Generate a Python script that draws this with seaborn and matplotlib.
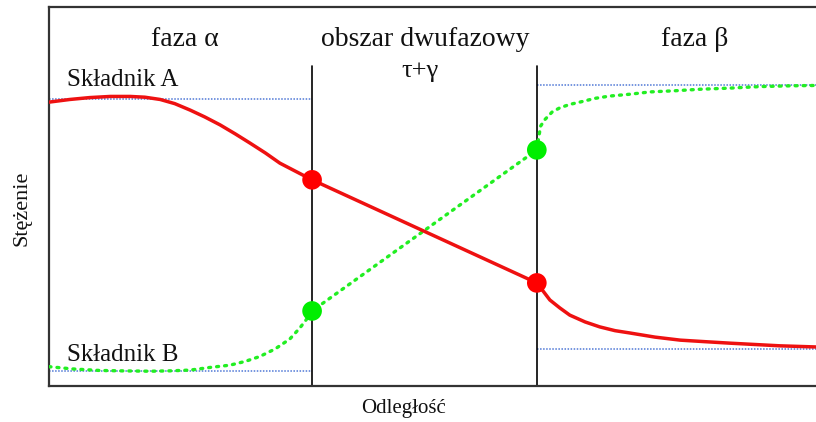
import matplotlib
matplotlib.use("Agg")
import matplotlib.pyplot as plt
import seaborn as sns
import pandas as pd

# Distance (arbitrary units, 0-100) and concentration (arbitrary units, 0-100)
boundary_x = [34.3, 63.6]          # phase boundaries alpha | two-phase | beta

red_x = [0.0, 2.7, 5.3, 8.0, 10.6, 12.5, 14.5, 16.4, 18.4, 20.3, 22.3, 24.3,
         26.2, 28.2, 30.1, 32.1, 34.3,
         63.6, 64.4, 65.3, 66.6, 67.9, 69.9, 71.8, 73.8, 75.7, 79.0, 82.3,
         85.5, 88.8, 95.3, 100.0]
red_y = [74.9, 75.6, 76.1, 76.4, 76.4, 76.2, 75.6, 74.5, 72.8, 71.0, 68.9, 66.5,
         64.1, 61.5, 58.8, 56.7, 54.4,
         27.2, 25.1, 22.7, 20.6, 18.7, 16.9, 15.6, 14.6, 14.0, 12.9, 12.1,
         11.7, 11.3, 10.6, 10.3]

green_x = [0.0, 3.1, 6.6, 9.3, 13.2, 15.8, 18.4, 21.0, 23.6, 25.6, 27.5, 29.5,
           31.4, 32.7, 33.5, 34.3,
           63.6, 63.9, 64.1, 64.7, 65.6, 66.6, 67.9, 69.2, 71.2, 73.1, 75.8,
           78.4, 81.6, 84.9, 88.8, 92.7, 96.6, 100.0]
green_y = [5.1, 4.5, 4.1, 4.0, 3.9, 4.0, 4.2, 4.9, 5.5, 6.5, 7.8, 9.8,
           12.4, 15.3, 17.4, 19.8,
           62.3, 66.2, 68.6, 70.4, 72.3, 73.4, 74.3, 74.9, 75.9, 76.5, 77.0,
           77.6, 77.9, 78.3, 78.6, 79.0, 79.2, 79.3]

red_dots_y = [54.4, 27.2]
green_dots_y = [19.8, 62.3]

# Equilibrium levels: (x start, x end, level)
level_a_alpha = [0.0, 34.3, 75.7]
level_a_beta = [63.6, 100.0, 79.5]
level_b_alpha = [0.0, 34.3, 4.0]
level_b_beta = [63.6, 100.0, 9.8]

phase_labels = ["faza α", "obszar dwufazowy", "faza β"]
phase_label_x = [17.7, 49.0, 84.2]
two_phase_sub = "τ+γ"
component_labels = ["Składnik A", "Składnik B"]
x_label = "Odległość"
y_label = "Stężenie"

sns.set_theme(style="white")
plt.rcParams["font.family"] = ["Liberation Serif", "DejaVu Serif"]

fig = plt.figure(figsize=(8.16, 4.22), dpi=100)
ax = fig.add_axes([49 / 816, 36 / 422, 767 / 816, 379 / 422])
ax.set_xlim(0, 100)
ax.set_ylim(0, 100)

blue = "#4f78d6"
for lv in (level_a_alpha, level_a_beta, level_b_alpha, level_b_beta):
    ax.plot([lv[0], lv[1]], [lv[2], lv[2]], color=blue, lw=1.1,
            linestyle=(0, (1, 1)), zorder=1)

for bx in boundary_x:
    ax.plot([bx, bx], [0, 84.4], color="black", lw=1.2, zorder=2)

green_df = pd.DataFrame({"x": green_x, "y": green_y})
sns.lineplot(data=green_df, x="x", y="y", ax=ax, color="#22ee22", lw=2.4,
             sort=False, estimator=None, zorder=3)
ax.lines[-1].set_linestyle((0, (0.6, 1.8)))
ax.lines[-1].set_dash_capstyle("round")

red_df = pd.DataFrame({"x": red_x, "y": red_y})
sns.lineplot(data=red_df, x="x", y="y", ax=ax, color="#ee1111", lw=2.5,
             sort=False, estimator=None, zorder=4)
ax.lines[-1].set_solid_joinstyle("round")

sns.scatterplot(x=boundary_x, y=red_dots_y, ax=ax, color="#ff0000", s=200,
                edgecolor="none", zorder=5)
sns.scatterplot(x=boundary_x, y=green_dots_y, ax=ax, color="#00ee00", s=200,
                edgecolor="none", zorder=5)

for lbl, lx in zip(phase_labels, phase_label_x):
    ax.text(lx, 91.4, lbl, ha="center", va="center", fontsize=20, color="#111111")
ax.text(48.4, 83.2, two_phase_sub, ha="center", va="center", fontsize=19,
        color="#111111")
ax.text(2.4, 80.7, component_labels[0], ha="left", va="center", fontsize=18,
        color="#111111")
ax.text(2.4, 8.2, component_labels[1], ha="left", va="center", fontsize=18,
        color="#111111")

fig.text(403 / 816, 1 - 408 / 422, x_label, ha="center", va="center",
         fontsize=15, color="#111111")
fig.text(22 / 816, 1 - 208 / 422, y_label, ha="center", va="center",
         rotation=90, fontsize=16, color="#111111")
ax.set_xlabel("")
ax.set_ylabel("")
ax.set_xticks([])
ax.set_yticks([])

for side in ("left", "top", "bottom"):
    ax.spines[side].set_color("#333333")
    ax.spines[side].set_linewidth(1.6)
ax.spines["right"].set_visible(False)

fig.savefig("out.png", dpi=100)
